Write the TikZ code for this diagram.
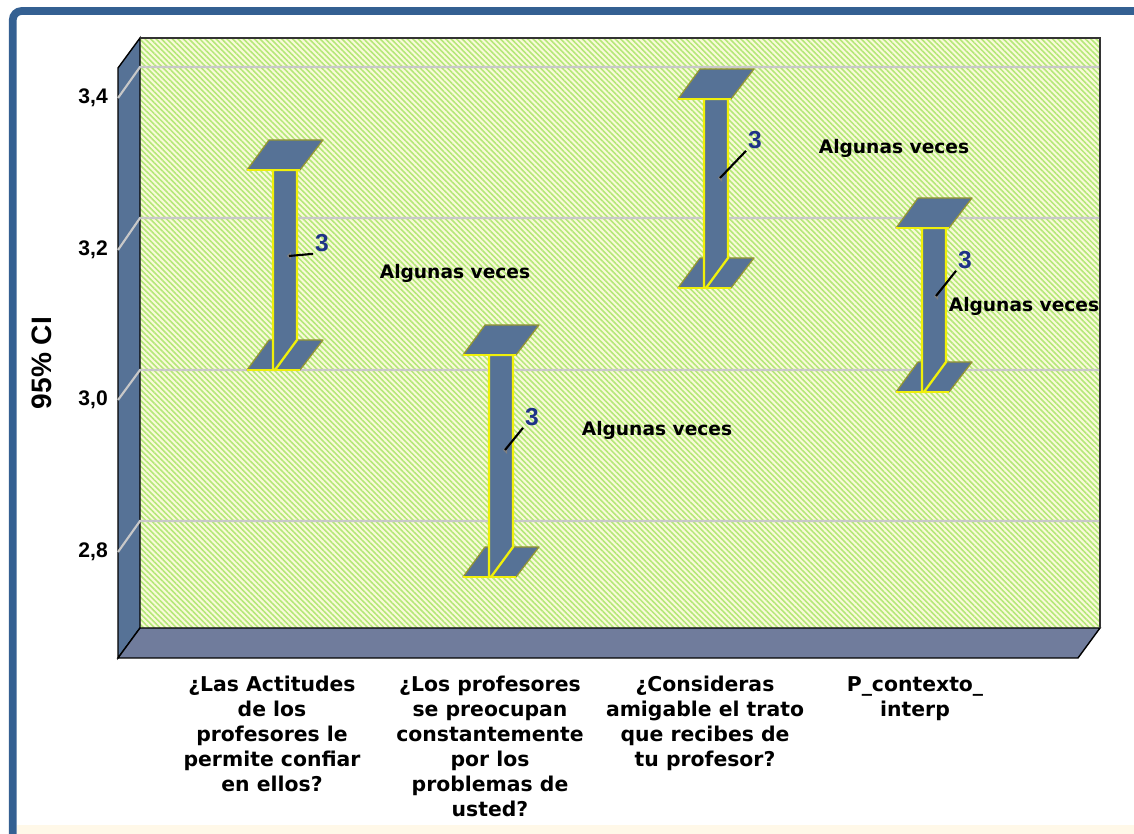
\documentclass[tikz,border=0pt]{standalone}
\usepackage{fontspec}
\setmainfont{DejaVu Sans}
\newfontfamily\narrowfont{Liberation Sans}
\usetikzlibrary{patterns.meta,positioning}

\definecolor{framebl}{RGB}{52,96,146}
\definecolor{wallbl}{RGB}{86,114,150}
\definecolor{floorbl}{RGB}{112,124,156}
\definecolor{stripegr}{RGB}{180,232,120}
\definecolor{creambg}{RGB}{250,250,218}
\definecolor{capyel}{RGB}{240,240,10}
\definecolor{capol}{RGB}{150,150,50}
\definecolor{numbl}{RGB}{30,50,135}
\definecolor{gridgr}{RGB}{200,200,200}
\definecolor{stripbg}{RGB}{255,248,232}

\tikzset{
  capface/.style={fill=wallbl, draw=capol, line width=0.7pt, line join=round},
  stemface/.style={fill=wallbl, draw=capyel, line width=1.3pt},
  frontedge/.style={draw=capyel, line width=1.5pt},
  meanlbl/.style={text=numbl, font=\narrowfont\bfseries\fontsize{14}{14}\selectfont, inner sep=1pt},
  catlbl/.style={font=\bfseries\fontsize{11.6}{14.2}\selectfont, align=center, anchor=north, inner sep=0pt},
  notelbl/.style={font=\bfseries\fontsize{10.6}{12}\selectfont},
  ticklbl/.style={font=\narrowfont\bfseries\fontsize{12}{12}\selectfont, anchor=east},
  gridln/.style={draw=gridgr, line width=1.2pt},
}

\begin{document}
\begin{tikzpicture}[x=0.02cm,y=-0.02cm]
  \useasboundingbox (0,0) rectangle (1134,834);
  % frame
  \fill[stripbg] (17,825) rectangle (1134,834);
  \draw[framebl, line width=4.4pt, rounded corners=5pt] (12.8,850) |- (1150,11);

  % chart box
  \coordinate (btl) at (140,38);
  \coordinate (bbr) at (1100,628);
  \fill[creambg] (btl) rectangle (bbr);
  \pattern[pattern={Lines[angle=-45,distance=2.2pt,line width=0.9pt]}, pattern color=stripegr] (btl) rectangle (bbr);
  \filldraw[fill=wallbl, draw=black, line width=0.8pt] (118,68) -- (btl) -- (140,628) -- (118,658) -- cycle;
  \filldraw[fill=floorbl, draw=black, line width=0.8pt] (118,658) -- (140,628) -- (bbr) -- (1078,658) -- cycle;
  \draw[black!80, line width=0.8pt] (btl) -- (1100,38) -- (bbr);

  \foreach \yb/\yl/\txt in {67/98/{3,4}, 218/250/{3,2}, 370/400/{3,0}, 521/552/{2,8}} {
    \draw[gridln] (118,\yl) -- (140,\yb) -- (1099,\yb);
    \node[ticklbl] (t\yb) at (114,\yl) {\txt};
  }
  \node[rotate=90, font=\narrowfont\bfseries\fontsize{16}{16}\selectfont] (ylab) at (42,363) {95\% CI};

  % error bars
  \foreach \i/\sx/\yt/\yb/\mx/\my/\lx/\ly in {1/273/170/370/289/256/322/243,
      2/489/355/577/505/450/532/417, 3/704/99/288/720/178/755/140, 4/922/228/392/936/296/965/260} {
    \filldraw[capface] (\sx-26,\yb) -- (\sx-4,\yb-30) -- (\sx+50,\yb-30) -- (\sx+27,\yb) -- cycle;
    \draw[frontedge] (\sx-26,\yb) -- (\sx+27,\yb);
    \filldraw[stemface] (\sx,\yt) -- (\sx+24,\yt) -- (\sx+24,\yb-30) -- (\sx+2,\yb) -- (\sx,\yb) -- cycle;
    \filldraw[capface] (\sx-26,\yt) -- (\sx-4,\yt-30) -- (\sx+50,\yt-30) -- (\sx+27,\yt) -- cycle;
    \draw[frontedge] (\sx-26,\yt) -- (\sx+27,\yt);
    \coordinate (m\i) at (\mx,\my);
    \fill[gray] (m\i) ++(-2,0) -- ++(4,-4) -- ++(0,8) -- cycle;
    \node[meanlbl] (n\i) at (\lx,\ly) {3};
    \draw[line width=1.2pt] (m\i) -- (n\i.south west);
  }

  \node[notelbl] (av1) at (455,273) {Algunas veces};
  \node[notelbl] (av2) at (657,430) {Algunas veces};
  \node[notelbl] (av3) at (894,148) {Algunas veces};
  \node[notelbl] (av4) at (1024,306) {Algunas veces};

  % categories
  \node[catlbl] (c1) at (272,676) {¿Las Actitudes\\de los\\profesores le\\permite confiar\\en ellos?};
  \node[catlbl] (c2) at (490,676) {¿Los profesores\\se preocupan\\constantemente\\por los\\problemas de\\usted?};
  \node[catlbl] (c3) at (705,676) {¿Consideras\\amigable el trato\\que recibes de\\tu profesor?};
  \node[catlbl] (c4) at (915,676) {P\_contexto\_\\interp};
\end{tikzpicture}
\end{document}
